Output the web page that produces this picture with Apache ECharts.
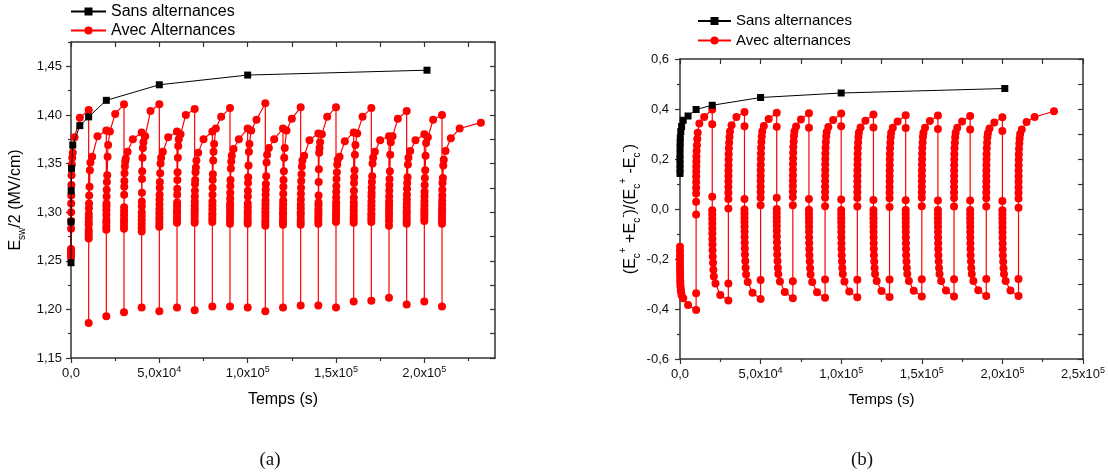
<!DOCTYPE html>
<html><head><meta charset="utf-8">
<script src="https://cdn.jsdelivr.net/npm/echarts@6/dist/echarts.min.js"></script>
<style>html,body{margin:0;padding:0;background:#fff}#c{width:1108px;height:474px}</style>
</head><body><div id="c"></div>
<script>
// ---------- DATA ----------
// time offsets (s) of the measurements inside one polarity segment
const segOffsets = [1, 2, 5, 10, 20, 30, 50, 70, 100, 150, 200, 300, 500, 700, 1000, 2000, 5000, 10000];
const lastSegOffsets = [1, 2, 5, 10, 20, 30, 50, 70, 100, 150, 200, 300, 500, 700, 1000, 2000, 5000, 10000, 22000];
// start time of each segment (s)
const segStarts = [0, 10000, 20000, 30000, 40000, 50000, 60000, 70000, 80000, 90000, 100000,
  110000, 120000, 130000, 140000, 150000, 160000, 170000, 180000, 190000, 200000, 210000];

// (a) Esw/2 "Avec Alternances" – one array per segment
const avecA = [
  [1.254, 1.256, 1.258, 1.260, 1.262, 1.283, 1.291, 1.300, 1.309, 1.317, 1.328, 1.338, 1.349, 1.356, 1.361, 1.377, 1.397, 1.405],
  [1.186, 1.273, 1.276, 1.279, 1.282, 1.287, 1.290, 1.294, 1.298, 1.304, 1.309, 1.317, 1.326, 1.343, 1.351, 1.357, 1.378, 1.384],
  [1.193, 1.282, 1.285, 1.289, 1.292, 1.297, 1.302, 1.306, 1.309, 1.316, 1.323, 1.331, 1.338, 1.357, 1.369, 1.383, 1.401, 1.411],
  [1.197, 1.283, 1.286, 1.290, 1.293, 1.297, 1.301, 1.305, 1.318, 1.326, 1.332, 1.340, 1.347, 1.352, 1.355, 1.362, 1.375, 1.382],
  [1.202, 1.280, 1.284, 1.288, 1.292, 1.296, 1.300, 1.306, 1.311, 1.320, 1.334, 1.342, 1.356, 1.366, 1.372, 1.378, 1.404, 1.411],
  [1.198, 1.285, 1.288, 1.292, 1.295, 1.299, 1.303, 1.308, 1.313, 1.318, 1.325, 1.331, 1.340, 1.350, 1.356, 1.362, 1.377, 1.383],
  [1.202, 1.289, 1.292, 1.295, 1.299, 1.302, 1.306, 1.310, 1.318, 1.324, 1.333, 1.341, 1.356, 1.368, 1.375, 1.380, 1.400, 1.406],
  [1.199, 1.289, 1.292, 1.296, 1.300, 1.303, 1.307, 1.311, 1.316, 1.322, 1.329, 1.333, 1.341, 1.346, 1.353, 1.361, 1.375, 1.383],
  [1.203, 1.290, 1.293, 1.296, 1.299, 1.303, 1.307, 1.311, 1.318, 1.325, 1.333, 1.339, 1.353, 1.362, 1.370, 1.386, 1.398, 1.407],
  [1.203, 1.288, 1.291, 1.295, 1.298, 1.302, 1.306, 1.309, 1.314, 1.320, 1.327, 1.333, 1.345, 1.352, 1.358, 1.365, 1.375, 1.386],
  [1.202, 1.288, 1.291, 1.294, 1.298, 1.301, 1.305, 1.309, 1.316, 1.322, 1.330, 1.336, 1.348, 1.362, 1.370, 1.384, 1.395, 1.412],
  [1.198, 1.286, 1.289, 1.292, 1.296, 1.300, 1.304, 1.308, 1.312, 1.318, 1.323, 1.329, 1.337, 1.351, 1.359, 1.366, 1.375, 1.386],
  [1.202, 1.287, 1.290, 1.293, 1.297, 1.300, 1.304, 1.308, 1.312, 1.319, 1.326, 1.333, 1.342, 1.356, 1.366, 1.384, 1.396, 1.408],
  [1.204, 1.287, 1.290, 1.293, 1.297, 1.300, 1.304, 1.308, 1.313, 1.319, 1.325, 1.332, 1.339, 1.347, 1.353, 1.358, 1.374, 1.381],
  [1.204, 1.288, 1.291, 1.294, 1.297, 1.300, 1.303, 1.307, 1.310, 1.317, 1.331, 1.344, 1.361, 1.366, 1.372, 1.380, 1.398, 1.408],
  [1.202, 1.290, 1.293, 1.296, 1.299, 1.302, 1.306, 1.310, 1.315, 1.321, 1.327, 1.334, 1.341, 1.349, 1.354, 1.357, 1.373, 1.382],
  [1.208, 1.289, 1.292, 1.295, 1.298, 1.302, 1.306, 1.310, 1.315, 1.322, 1.330, 1.336, 1.343, 1.359, 1.369, 1.381, 1.398, 1.407],
  [1.209, 1.290, 1.293, 1.296, 1.299, 1.303, 1.307, 1.311, 1.316, 1.320, 1.325, 1.331, 1.337, 1.350, 1.356, 1.362, 1.374, 1.378],
  [1.212, 1.286, 1.291, 1.295, 1.299, 1.303, 1.307, 1.311, 1.316, 1.322, 1.328, 1.334, 1.342, 1.359, 1.372, 1.378, 1.396, 1.404],
  [1.205, 1.288, 1.291, 1.294, 1.298, 1.301, 1.305, 1.309, 1.313, 1.318, 1.324, 1.330, 1.336, 1.349, 1.356, 1.363, 1.374, 1.380],
  [1.208, 1.291, 1.294, 1.297, 1.300, 1.303, 1.307, 1.311, 1.316, 1.321, 1.328, 1.335, 1.343, 1.358, 1.371, 1.377, 1.395, 1.400],
  [1.203, 1.288, 1.291, 1.294, 1.297, 1.301, 1.304, 1.308, 1.312, 1.317, 1.323, 1.330, 1.335, 1.348, 1.354, 1.363, 1.376, 1.386, 1.392]
];
const sansTimesA = [1, 10, 100, 300, 1000, 5000, 10000, 20000, 50000, 100000, 201500];
const sansValuesA = [1.248, 1.290, 1.322, 1.345, 1.369, 1.389, 1.398, 1.415, 1.431, 1.441, 1.446];

// (b) (Ec+ + Ec-)/(Ec+ - Ec-) "Avec alternances"
const avecB = [
  [-0.151, -0.168, -0.185, -0.200, -0.215, -0.230, -0.245, -0.258, -0.272, -0.285, -0.298, -0.310, -0.322, -0.333, -0.345, -0.357, -0.384, -0.404],
  [-0.337, -0.022, 0.029, 0.062, 0.085, 0.108, 0.130, 0.150, 0.170, 0.190, 0.210, 0.232, 0.255, 0.280, 0.305, 0.342, 0.368, 0.398],
  [0.339, 0.049, -0.005, -0.022, -0.040, -0.058, -0.078, -0.098, -0.120, -0.142, -0.165, -0.190, -0.215, -0.243, -0.270, -0.298, -0.344, -0.366],
  [-0.298, 0.002, 0.040, 0.065, 0.088, 0.110, 0.132, 0.153, 0.175, 0.198, 0.220, 0.243, 0.265, 0.288, 0.310, 0.335, 0.368, 0.388],
  [0.331, 0.040, -0.002, -0.018, -0.035, -0.052, -0.070, -0.090, -0.112, -0.135, -0.158, -0.182, -0.208, -0.235, -0.262, -0.292, -0.335, -0.360],
  [-0.284, 0.015, 0.045, 0.068, 0.090, 0.112, 0.133, 0.155, 0.177, 0.200, 0.222, 0.245, 0.268, 0.290, 0.310, 0.332, 0.360, 0.385],
  [0.329, 0.045, 0.000, -0.016, -0.033, -0.050, -0.068, -0.088, -0.110, -0.133, -0.157, -0.182, -0.208, -0.235, -0.260, -0.290, -0.332, -0.357],
  [-0.289, 0.015, 0.048, 0.070, 0.092, 0.113, 0.135, 0.157, 0.180, 0.202, 0.225, 0.248, 0.270, 0.292, 0.310, 0.330, 0.358, 0.383],
  [0.325, 0.040, -0.003, -0.019, -0.036, -0.053, -0.071, -0.091, -0.113, -0.136, -0.160, -0.185, -0.210, -0.237, -0.262, -0.292, -0.333, -0.355],
  [-0.282, 0.011, 0.045, 0.068, 0.090, 0.112, 0.134, 0.156, 0.178, 0.200, 0.222, 0.245, 0.268, 0.290, 0.308, 0.328, 0.356, 0.382],
  [0.331, 0.038, -0.004, -0.020, -0.037, -0.054, -0.072, -0.092, -0.114, -0.137, -0.160, -0.185, -0.210, -0.236, -0.260, -0.290, -0.330, -0.353],
  [-0.283, 0.010, 0.044, 0.067, 0.089, 0.111, 0.133, 0.155, 0.177, 0.199, 0.221, 0.244, 0.266, 0.288, 0.306, 0.326, 0.353, 0.378],
  [0.326, 0.036, -0.004, -0.020, -0.037, -0.054, -0.072, -0.092, -0.114, -0.137, -0.160, -0.185, -0.210, -0.236, -0.260, -0.288, -0.328, -0.352],
  [-0.282, 0.008, 0.043, 0.066, 0.088, 0.110, 0.132, 0.154, 0.176, 0.198, 0.220, 0.243, 0.265, 0.287, 0.305, 0.325, 0.350, 0.375],
  [0.324, 0.035, -0.004, -0.020, -0.037, -0.054, -0.072, -0.092, -0.114, -0.137, -0.160, -0.185, -0.210, -0.236, -0.260, -0.288, -0.327, -0.350],
  [-0.281, 0.011, 0.045, 0.067, 0.089, 0.111, 0.133, 0.155, 0.177, 0.199, 0.221, 0.244, 0.266, 0.288, 0.305, 0.325, 0.352, 0.374],
  [0.320, 0.034, -0.004, -0.020, -0.037, -0.054, -0.072, -0.092, -0.114, -0.137, -0.160, -0.185, -0.210, -0.236, -0.260, -0.288, -0.326, -0.350],
  [-0.281, 0.010, 0.044, 0.066, 0.088, 0.110, 0.132, 0.154, 0.176, 0.198, 0.220, 0.243, 0.265, 0.287, 0.305, 0.325, 0.350, 0.372],
  [0.318, 0.034, -0.004, -0.020, -0.037, -0.054, -0.072, -0.092, -0.114, -0.137, -0.160, -0.185, -0.210, -0.236, -0.260, -0.288, -0.325, -0.348],
  [-0.280, 0.010, 0.043, 0.066, 0.088, 0.110, 0.132, 0.154, 0.176, 0.198, 0.220, 0.243, 0.265, 0.287, 0.303, 0.322, 0.346, 0.367],
  [0.312, 0.032, -0.005, -0.021, -0.038, -0.055, -0.073, -0.093, -0.115, -0.138, -0.161, -0.186, -0.211, -0.237, -0.260, -0.288, -0.326, -0.348],
  [-0.280, 0.005, 0.042, 0.065, 0.087, 0.109, 0.131, 0.153, 0.175, 0.197, 0.219, 0.241, 0.262, 0.282, 0.300, 0.318, 0.348, 0.368, 0.391]
];
const sansTimesB = [1, 2, 5, 10, 20, 50, 100, 200, 500, 1000, 2000, 5000, 10000, 20000, 50000, 100000, 201500];
const sansValuesB = [0.142, 0.160, 0.180, 0.200, 0.220, 0.245, 0.265, 0.285, 0.310, 0.330, 0.355, 0.372, 0.398, 0.415, 0.446, 0.464, 0.482];

// axis ticks / labels
const xMajorA = [0, 50000, 100000, 150000, 200000];
const xMinorA = [25000, 75000, 125000, 175000, 225000];
const xMajorB = [0, 50000, 100000, 150000, 200000, 250000];
const xMinorB = [25000, 75000, 125000, 175000, 225000];
const xMantissa = ['0,0', '5,0x10', '1,0x10', '1,5x10', '2,0x10', '2,5x10'];
const xExponent = ['', '4', '5', '5', '5', '5'];
const yMajorA = [1.15, 1.20, 1.25, 1.30, 1.35, 1.40, 1.45];
const yMinorA = [1.175, 1.225, 1.275, 1.325, 1.375, 1.425, 1.475];
const yLabelsA = ['1,15', '1,20', '1,25', '1,30', '1,35', '1,40', '1,45'];
const yMajorB = [-0.6, -0.4, -0.2, 0, 0.2, 0.4, 0.6];
const yMinorB = [-0.5, -0.3, -0.1, 0.1, 0.3, 0.5];
const yLabelsB = ['-0,6', '-0,4', '-0,2', '0,0', '0,2', '0,4', '0,6'];

// ---------- BUILD ----------
function buildSegments(segs) {
  const out = [];
  segs.forEach((vals, k) => {
    const offs = k === segs.length - 1 ? lastSegOffsets : segOffsets;
    vals.forEach((v, i) => out.push([segStarts[k] + offs[i], v]));
  });
  return out;
}
const zip = (t, v) => t.map((x, i) => [x, v[i]]);

const FONT = "'Liberation Sans', Arial, sans-serif";
const AX = '#333';
const axLine = {show: true, onZero: false, lineStyle: {color: AX, width: 1.5}};
const noLine = {show: false, onZero: false};
const tickLS = {color: AX, width: 1.2};

function xLabelFmt(v) {
  const i = xMajorB.findIndex(t => Math.abs(t - v) < 1e-6);
  if (i < 0) return '';
  return xExponent[i] ? '{m|' + xMantissa[i] + '}{s|' + xExponent[i] + '}' : '{m|' + xMantissa[i] + '}';
}
const xRich = {m: {fontSize: 13, lineHeight: 17, fontFamily: FONT, color: '#111'},
               s: {fontSize: 9, lineHeight: 9, verticalAlign: 'top', fontFamily: FONT, color: '#111'}};

function xAxes(g, max, majors, minors, nameSize, nameGap) {
  const c = {gridIndex: g, type: 'value', min: 0, max: max, splitLine: {show: false}};
  return [
    Object.assign({}, c, {position: 'bottom', axisLine: axLine,
      axisTick: {show: true, inside: false, length: 5, customValues: majors, lineStyle: tickLS},
      axisLabel: {show: true, customValues: majors, margin: 7, formatter: xLabelFmt, rich: xRich},
      name: 'Temps (s)', nameLocation: 'middle', nameGap: nameGap,
      nameTextStyle: {fontSize: nameSize, fontFamily: FONT, color: '#000'}}),
    Object.assign({}, c, {position: 'bottom', axisLine: noLine,
      axisTick: {show: true, inside: false, length: 3, customValues: minors, lineStyle: tickLS},
      axisLabel: {show: false}}),
    Object.assign({}, c, {position: 'top', axisLine: axLine,
      axisTick: {show: true, inside: true, length: 5, customValues: majors.concat(minors), lineStyle: tickLS},
      axisLabel: {show: false}})
  ];
}
function yAxes(g, min, max, majors, minors, labels, margin, name, nameRich, nameGap) {
  const c = {gridIndex: g, type: 'value', min: min, max: max, splitLine: {show: false}};
  const fmt = v => { const i = majors.findIndex(t => Math.abs(t - v) < 1e-6); return i < 0 ? '' : labels[i]; };
  return [
    Object.assign({}, c, {position: 'left', axisLine: axLine,
      axisTick: {show: true, inside: false, length: 5, customValues: majors, lineStyle: tickLS},
      axisLabel: {show: true, customValues: majors, margin: margin, formatter: fmt,
        fontSize: 13, fontFamily: FONT, color: '#111'},
      name: name, nameLocation: 'middle', nameRotate: 90, nameGap: nameGap,
      nameTextStyle: {fontFamily: FONT, color: '#000', rich: nameRich}}),
    Object.assign({}, c, {position: 'left', axisLine: noLine,
      axisTick: {show: true, inside: false, length: 3, customValues: minors, lineStyle: tickLS},
      axisLabel: {show: false}}),
    Object.assign({}, c, {position: 'right', axisLine: axLine,
      axisTick: {show: true, inside: true, length: 5, customValues: majors.concat(minors), lineStyle: tickLS},
      axisLabel: {show: false}})
  ];
}

const richA = {
  n: {fontSize: 16, lineHeight: 22, fontFamily: FONT, color: '#000'},
  sub: {fontSize: 10, lineHeight: 10, verticalAlign: 'bottom', fontFamily: FONT, color: '#000'}
};
const richB = {
  n: {fontSize: 16, lineHeight: 24, fontFamily: FONT, color: '#000'},
  sub: {fontSize: 10, lineHeight: 10, verticalAlign: 'bottom', fontFamily: FONT, color: '#000'},
  sup: {fontSize: 10, lineHeight: 10, verticalAlign: 'top', fontFamily: FONT, color: '#000'}
};
const nameA = '{n|E}{sub|sw}{n|/2 (MV/cm)}';
const nameB = '{n|(E}{sub|c}{sup|+}{n| +E}{sub|c}{sup|-}{n|)/(E}{sub|c}{sup|+}{n| -E}{sub|c}{sup|-}{n|)}';

const redStyle = (name, xi, yi, data) => ({
  name: name, type: 'line', xAxisIndex: xi, yAxisIndex: yi, data: data,
  symbol: 'circle', symbolSize: 8, showAllSymbol: true,
  lineStyle: {color: '#ff0000', width: 1.2}, itemStyle: {color: '#ff0000'}, z: 2
});
const blackStyle = (name, xi, yi, data) => ({
  name: name, type: 'line', xAxisIndex: xi, yAxisIndex: yi, data: data,
  symbol: 'rect', symbolSize: 7, showAllSymbol: true,
  lineStyle: {color: '#000', width: 1}, itemStyle: {color: '#000'}, z: 3
});

const option = {
  animation: false,
  backgroundColor: '#fff',
  grid: [
    {left: 71, top: 42, width: 424, height: 316, outerBoundsMode: 'none', containLabel: false},
    {left: 680, top: 59, width: 403, height: 300, outerBoundsMode: 'none', containLabel: false}
  ],
  xAxis: xAxes(0, 240000, xMajorA, xMinorA, 16, 34).concat(xAxes(1, 250000, xMajorB, xMinorB, 15, 33)),
  yAxis: yAxes(0, 1.15, 1.475, yMajorA, yMinorA, yLabelsA, 9, nameA, richA, 44)
    .concat(yAxes(1, -0.6, 0.6, yMajorB, yMinorB, yLabelsB, 11, nameB, richB, 37)),
  legend: [
    {data: ['Sans alternances', 'Avec Alternances'], orient: 'vertical', left: 70, top: 3.5, padding: 0,
     itemWidth: 35, itemHeight: 10, itemGap: 3, selectedMode: false,
     textStyle: {fontSize: 16, fontFamily: FONT, color: '#000'}},
    {data: ['Sans alternances', 'Avec alternances'], orient: 'vertical', left: 697, top: 13.5, padding: 0,
     itemWidth: 33, itemHeight: 10, itemGap: 4.5, selectedMode: false,
     textStyle: {fontSize: 15, fontFamily: FONT, color: '#000'}}
  ],
  series: [
    redStyle('Avec Alternances', 0, 0, buildSegments(avecA)),
    blackStyle('Sans alternances', 0, 0, zip(sansTimesA, sansValuesA)),
    redStyle('Avec alternances', 3, 3, buildSegments(avecB)),
    blackStyle('Sans alternances', 3, 3, zip(sansTimesB, sansValuesB))
  ],
  graphic: [
    {type: 'text', x: 270, y: 460, style: {text: '(a)', fontSize: 19, fontFamily: "'Liberation Serif', serif", fill: '#111', align: 'center', verticalAlign: 'middle'}},
    {type: 'text', x: 862, y: 460, style: {text: '(b)', fontSize: 19, fontFamily: "'Liberation Serif', serif", fill: '#111', align: 'center', verticalAlign: 'middle'}}
  ]
};
const chart = echarts.init(document.getElementById('c'), null, {renderer: 'canvas'});
chart.setOption(option);
</script>
</body></html>
